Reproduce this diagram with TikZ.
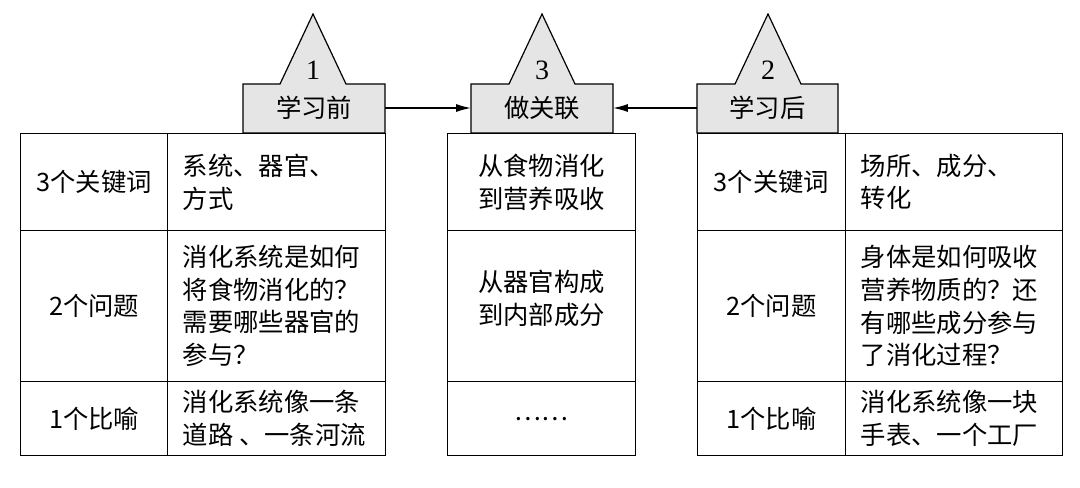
\documentclass[tikz,border=0pt]{standalone}
\usepackage{fontspec}
\setmainfont{Liberation Serif}
\newfontfamily\cjk{Noto Sans CJK SC}
\usetikzlibrary{arrows.meta}
\tikzset{
 hdr/.style={fill=gray!20,draw=black,line width=0.9pt,line join=miter},
 cell/.style={draw=black,line width=0.9pt,rectangle,anchor=north west,inner sep=0pt},
 txt/.style={font=\fontsize{19}{24.5}\selectfont\cjk,align=center},
 ltxt/.style={font=\fontsize{19}{24.5}\selectfont\cjk,align=left,anchor=west},
 arr/.style={-{Latex[length=11pt,width=6pt]},line width=0.8pt}
}
\begin{document}
\begin{tikzpicture}[x=0.75pt,y=-0.75pt]
\useasboundingbox (0,0) rectangle (1080,487);
% headers
\foreach \l/\r/\c in {243/385/313, 471/613/542, 697/838/768}{
 \draw[hdr] (\l,133) -- (\l,84) -- (\c-33,84) -- (\c,14) -- (\c+33,84) -- (\r,84) -- (\r,133) -- cycle;
}
\node[txt,font=\fontsize{21}{24}\selectfont] (n1) at (313,70) {1};
\node[txt,font=\fontsize{21}{24}\selectfont] (n3) at (542,70) {3};
\node[txt,font=\fontsize{21}{24}\selectfont] (n2) at (768,70) {2};
\node[txt,minimum width=142*0.75pt,minimum height=49*0.75pt,inner sep=0pt] (h1) at (314,108) {学习前};
\node[txt,minimum width=142*0.75pt,minimum height=49*0.75pt,inner sep=0pt] (h3) at (542,108) {做关联};
\node[txt,minimum width=141*0.75pt,minimum height=49*0.75pt,inner sep=0pt] (h2) at (767.5,108) {学习后};
\draw[arr] (h1) -- (h3);
\draw[arr] (h2) -- (h3);
% left table
\foreach \y/\h/\k in {133/97/a,230/151/b,381/74/c}{
 \node[cell,minimum width=147*0.75pt,minimum height=\h*0.75pt] (L1\k) at (20,\y) {};
 \node[cell,minimum width=218*0.75pt,minimum height=\h*0.75pt] (L2\k) at (167,\y) {};
 \node[cell,minimum width=188*0.75pt,minimum height=\h*0.75pt] (M\k) at (447,\y) {};
 \node[cell,minimum width=148*0.75pt,minimum height=\h*0.75pt] (R1\k) at (697,\y) {};
 \node[cell,minimum width=217*0.75pt,minimum height=\h*0.75pt] (R2\k) at (845,\y) {};
}
\node[txt] at (L1a) {3个关键词};
\node[txt] at (L1b) {2个问题};
\node[txt] at (L1c) {1个比喻};
\node[ltxt] at (178,182) {系统、器官、\\方式};
\node[ltxt] at (178,306) {消化系统是如何\\将食物消化的？\\需要哪些器官的\\参与？};
\node[ltxt] at (178,418) {消化系统像一条\\道路 、一条河流};
\node[txt] at (Ma) {从食物消化\\到营养吸收};
\node[txt] at ([yshift=6pt]Mb) {从器官构成\\到内部成分};
\node[txt] at (Mc) {……};
\node[txt] at (R1a) {3个关键词};
\node[txt] at (R1b) {2个问题};
\node[txt] at (R1c) {1个比喻};
\node[ltxt] at (856,182) {场所、成分、\\转化};
\node[ltxt] at (856,306) {身体是如何吸收\\营养物质的？还\\有哪些成分参与\\了消化过程？};
\node[ltxt] at (856,418) {消化系统像一块\\手表、一个工厂};
\end{tikzpicture}
\end{document}
